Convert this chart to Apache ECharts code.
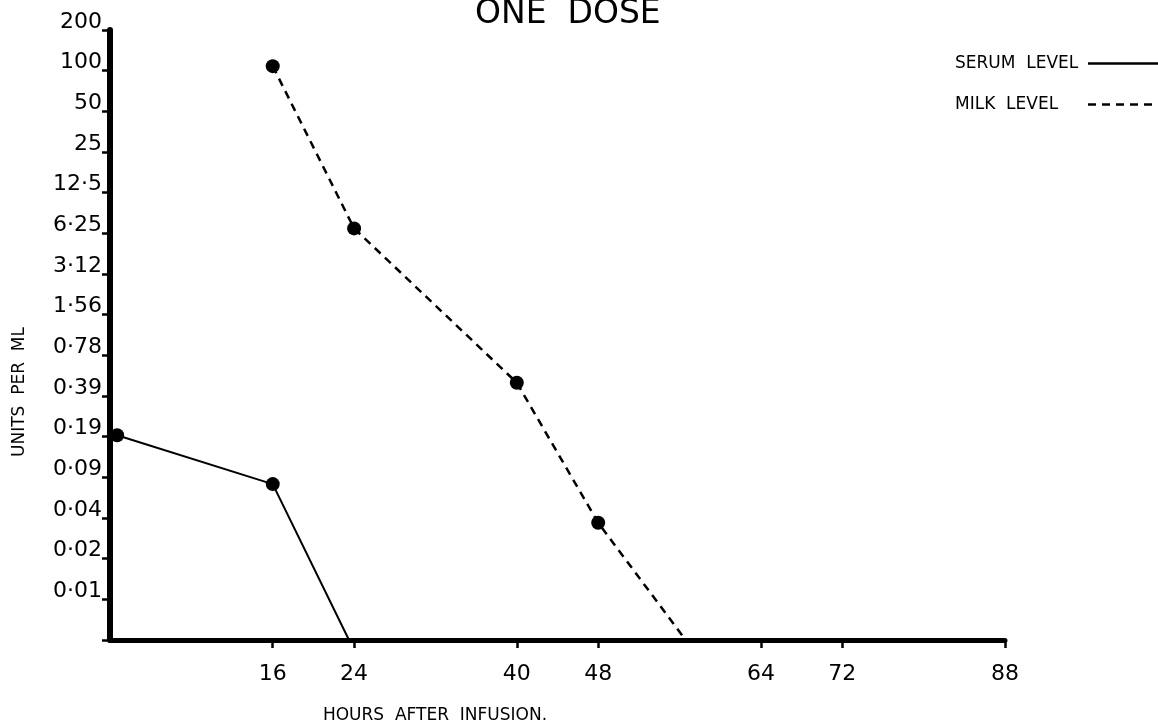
<!DOCTYPE html>
<html>
<head>
<meta charset="utf-8">
<script src="https://cdn.jsdelivr.net/npm/echarts@6/dist/echarts.min.js"></script>
<style>
  html, body { margin: 0; padding: 0; background: #fff; }
  #chart { width: 1158px; height: 724px; }
</style>
</head>
<body>
<div id="chart"></div>
<script>
// Doubling-dilution scale, top to bottom (units per ml)
const yTickLabels = ['200', '100', '50', '25', '12·5', '6·25', '3·12', '1·56',
                     '0·78', '0·39', '0·19', '0·09', '0·04', '0·02', '0·01'];
// Foot of the scale: one more halving below 0·01 (the time axis)
const BASE = 200 / Math.pow(2, 15);

// Hours after infusion with ticks
const xTicks = [16, 24, 40, 48, 64, 72, 88];

// Serum level
const serumHours = [0.7, 16, 23.5];
const serumUnits = [0.2, 0.087, BASE];

// Milk level
const milkHours = [16, 24, 40, 48, 56.6];
const milkUnits = [108, 6.8, 0.49, 0.045, BASE];

const FONT = 'DejaVu Sans';
const pairs = (xs, ys) => xs.map((x, i) => [x, ys[i]]);
const dotSize = (v) => (v[1] <= BASE ? 0 : 14);

const chart = echarts.init(document.getElementById('chart'), null, { renderer: 'canvas' });

chart.setOption({
  backgroundColor: '#ffffff',
  animation: false,
  title: {
    text: 'ONE  DOSE',
    left: 470,
    top: -7,
    textStyle: { fontFamily: FONT, fontSize: 33, fontWeight: 'normal', color: '#000' }
  },
  legend: {
    orient: 'vertical',
    left: 950,
    top: 50,
    align: 'right',
    itemGap: 24,
    itemWidth: 76,
    itemHeight: 16,
    itemStyle: { opacity: 0 },
    lineStyle: { width: 2.5 },
    formatter: '{t|{name}}',
    textStyle: {
      fontFamily: FONT, fontSize: 17, color: '#000',
      rich: { t: { fontFamily: FONT, fontSize: 17, color: '#000', width: 128, align: 'left' } }
    },
    data: ['SERUM  LEVEL', 'MILK  LEVEL']
  },
  grid: { left: 110, right: 153, top: 30, bottom: 84, containLabel: false },
  xAxis: {
    type: 'value',
    min: 0,
    max: 88,
    splitLine: { show: false },
    axisLine: { show: true, lineStyle: { color: '#000', width: 5 } },
    axisTick: {
      show: true, length: 8, customValues: xTicks,
      lineStyle: { color: '#000', width: 2.5 }
    },
    axisLabel: {
      customValues: xTicks, margin: 23,
      fontFamily: FONT, fontSize: 22, color: '#000'
    }
  },
  yAxis: [
    {
      // data scale: logarithmic, base 2
      type: 'log',
      logBase: 2,
      min: BASE,
      max: 200,
      show: false
    },
    {
      // labelled rungs of the dilution ladder
      type: 'value',
      position: 'left',
      min: 0,
      max: 15,
      interval: 1,
      splitLine: { show: false },
      axisLine: { show: true, lineStyle: { color: '#000', width: 6 } },
      axisTick: { show: true, length: 8, lineStyle: { color: '#000', width: 2.5 } },
      axisLabel: {
        margin: 8,
        fontFamily: FONT,
        fontSize: 22,
        color: '#000',
        verticalAlign: 'bottom',
        lineHeight: 22,
        padding: [0, 0, -3, 0],
        formatter: (v) => (v === 0 ? '' : yTickLabels[15 - v])
      }
    }
  ],
  graphic: [
    {
      type: 'text',
      x: 20, y: 392,
      rotation: Math.PI / 2,
      style: {
        text: 'UNITS  PER  ML',
        fontFamily: FONT, fontSize: 17, fill: '#000',
        align: 'center', verticalAlign: 'middle'
      }
    },
    {
      type: 'text',
      x: 435, y: 716,
      style: {
        text: 'HOURS  AFTER  INFUSION.',
        fontFamily: FONT, fontSize: 17, fill: '#000',
        align: 'center', verticalAlign: 'middle'
      }
    }
  ],
  series: [
    {
      name: 'SERUM  LEVEL',
      type: 'line',
      yAxisIndex: 0,
      data: pairs(serumHours, serumUnits),
      symbol: 'circle',
      symbolSize: dotSize,
      clip: false,
      itemStyle: { color: '#000' },
      lineStyle: { color: '#000', width: 2 }
    },
    {
      name: 'MILK  LEVEL',
      type: 'line',
      yAxisIndex: 0,
      data: pairs(milkHours, milkUnits),
      symbol: 'circle',
      symbolSize: dotSize,
      clip: false,
      itemStyle: { color: '#000' },
      lineStyle: { color: '#000', width: 2.5, type: [8, 6] }
    }
  ]
});
</script>
</body>
</html>
